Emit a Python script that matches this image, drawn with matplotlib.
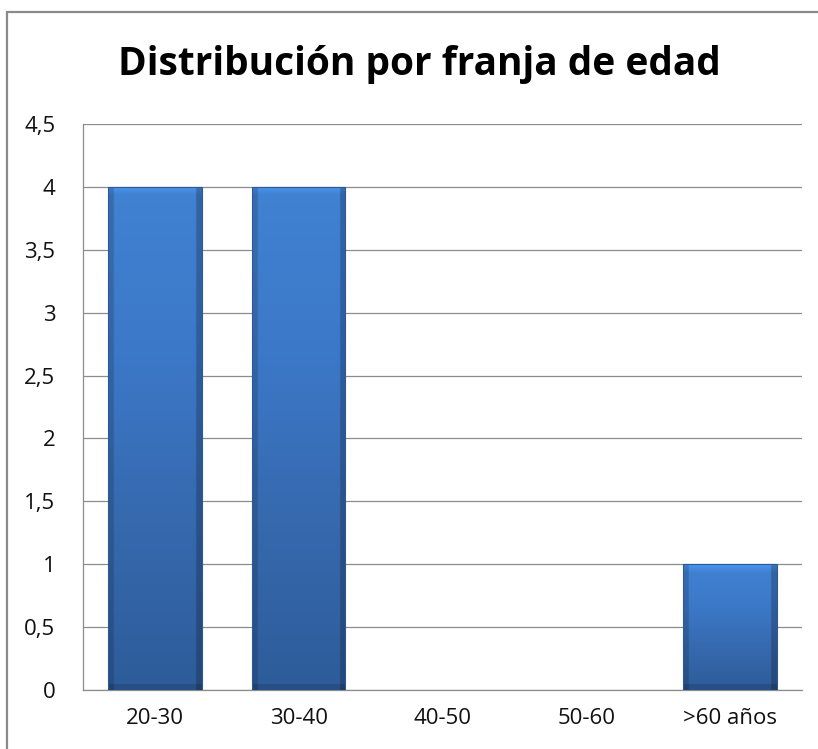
import numpy as np
import matplotlib
matplotlib.use('Agg')
import matplotlib.pyplot as plt
from matplotlib.patches import Rectangle
from matplotlib.colors import LinearSegmentedColormap

categorias = ['20-30', '30-40', '40-50', '50-60', '>60 años']
valores = [4, 4, 0, 0, 1]
yticks = [0, 0.5, 1, 1.5, 2, 2.5, 3, 3.5, 4, 4.5]
ytick_labels = ['0', '0,5', '1', '1,5', '2', '2,5', '3', '3,5', '4', '4,5']

plt.rcParams['font.family'] = ['Open Sans', 'DejaVu Sans']

fig = plt.figure(figsize=(8.18, 7.49), dpi=100)
ax = fig.add_axes([83 / 818, 59 / 749, 719 / 818, 566 / 749])

# marco del grafico
fig.patches.append(Rectangle((7 / 818, -0.05), 1.2, (749 - 12) / 749 + 0.05,
                             transform=fig.transFigure, fill=False,
                             edgecolor='#8a8a8a', linewidth=1.6))

x = np.arange(len(categorias))
ancho = 0.65
barras = ax.bar(x, valores, width=ancho, color='#3a74c0', edgecolor='none', zorder=2)

# degradado tipo Excel 2007
cmap = LinearSegmentedColormap.from_list('azul', ['#2e5c9a', '#3669ae', '#3c78c8', '#4182d2'])
lados = np.ones((1, 64))
lados[0, :4] = 0.84
lados[0, -4:] = 0.78
for b in barras:
    h = b.get_height()
    if h <= 0:
        continue
    x0 = b.get_x()
    w = b.get_width()
    filas = int(h * 126)  # aprox. una fila por pixel
    grad = np.linspace(0, 1, filas).reshape(-1, 1)
    img = cmap(grad)[:, :, :3] * lados[:, :, None]
    # bisel: franja clara arriba, oscura abajo
    img[-8:, :, :] = np.minimum(img[-8:, :, :] * np.linspace(1.02, 1.15, 8)[:, None, None], 1)
    img[:6, :, :] = img[:6, :, :] * 0.86
    im = ax.imshow(img, aspect='auto', origin='lower',
                   extent=(x0, x0 + w, 0, h), zorder=3, interpolation='bilinear')
    im.set_clip_path(b)
    ax.add_patch(Rectangle((x0, 0), w, h, fill=False, edgecolor='#2d5a94',
                           linewidth=0.8, zorder=4))

ax.set_xlim(-0.5, len(categorias) - 0.5)
ax.set_ylim(0, 4.5)
ax.set_yticks(yticks)
ax.set_yticklabels(ytick_labels)
ax.set_xticks(x)
ax.set_xticklabels(categorias)
ax.tick_params(axis='both', length=0, labelsize=16, labelcolor='#111111')
ax.tick_params(axis='y', pad=20)
ax.tick_params(axis='x', pad=13)

ax.grid(axis='y', color='#8c8c8c', linewidth=0.9, zorder=0)
ax.set_axisbelow(True)
for s in ['top', 'right']:
    ax.spines[s].set_visible(False)
for s in ['left', 'bottom']:
    ax.spines[s].set_color('#8c8c8c')
    ax.spines[s].set_linewidth(0.9)

fig.text(0.513, (749 - 64) / 749, 'Distribución por franja de edad',
         ha='center', va='center', fontsize=28, fontweight='bold')

fig.savefig('out.png', dpi=100)
